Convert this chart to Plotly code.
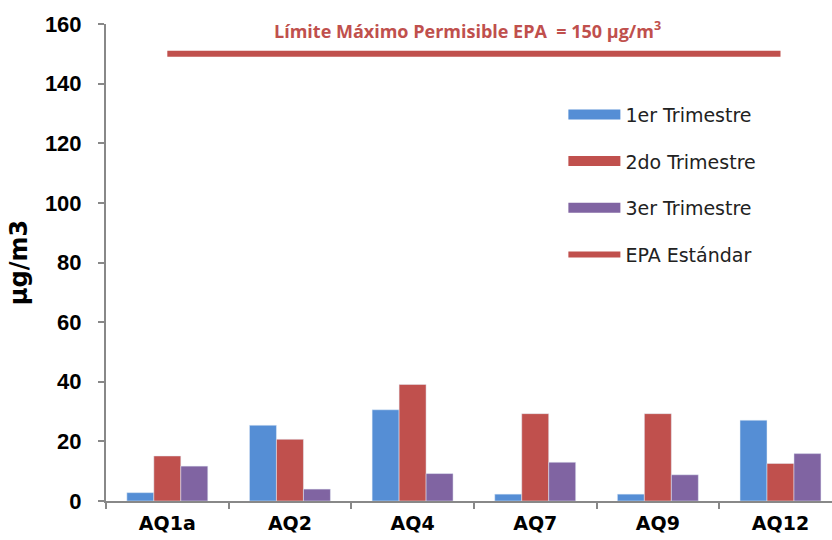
import plotly.graph_objects as go

categories = ["AQ1a", "AQ2", "AQ4", "AQ7", "AQ9", "AQ12"]
trim1 = [2.8, 25.4, 30.6, 2.3, 2.3, 27.1]
trim2 = [15.1, 20.7, 39.1, 29.3, 29.3, 12.6]
trim3 = [11.7, 4.0, 9.2, 13.0, 8.8, 15.9]
epa_x = ["AQ1a", "AQ12"]
epa_y = [150, 150]
y_ticks = [0, 20, 40, 60, 80, 100, 120, 140, 160]
names = ["1er Trimestre", "2do Trimestre", "3er Trimestre"]
colors = ["#558ED5", "#C0504D", "#8064A2"]

fig = go.Figure()
for vals, nm, col, grp in zip([trim1, trim2, trim3], names, colors, ["a", "b", "c"]):
    fig.add_trace(go.Bar(x=categories, y=vals, name=nm, marker=dict(color=col),
                         showlegend=False, legendgroup=grp))
    # legend swatch drawn as a wide bar-like line
    fig.add_trace(go.Scatter(x=[None], y=[None], mode="lines", name=nm,
                             line=dict(color=col, width=10), legendgroup=grp,
                             hoverinfo="skip"))
fig.add_trace(go.Scatter(x=epa_x, y=epa_y, mode="lines", name="EPA Estándar",
                         line=dict(color="#C0504D", width=6), legendgroup="d"))

fig.add_annotation(text="<b>Límite Máximo Permisible EPA  = 150 µg/m<sup>3</sup></b>",
                   xref="paper", yref="paper", x=0.498, y=1.0, yanchor="middle", yshift=-6,
                   showarrow=False, font=dict(family="Open Sans", size=18, color="#C0504D"))

fig.update_layout(
    width=832, height=540,
    margin=dict(l=106, r=0, t=24, b=39),
    paper_bgcolor="white", plot_bgcolor="white",
    barmode="group", bargap=0.34, bargroupgap=0,
    font=dict(family="DejaVu Sans", color="black"),
    legend=dict(x=0.63, y=0.85, xanchor="left", yanchor="top",
                font=dict(size=19, family="DejaVu Sans", color="#222"),
                tracegroupgap=19, itemwidth=52, bgcolor="rgba(0,0,0,0)"),
    xaxis=dict(type="category", range=[-0.5, 5.42], showline=True, linecolor="#888",
               linewidth=2, ticks="outside", tickson="boundaries", ticklen=6,
               tickcolor="#888", tickwidth=2, ticklabelstandoff=4,
               tickfont=dict(size=19, family="DejaVu Sans", color="black"),
               showgrid=False),
    yaxis=dict(range=[0, 160], tickvals=y_ticks, showline=True, linecolor="#888",
               linewidth=2, ticks="outside", ticklen=6, tickcolor="#888", tickwidth=2,
               ticklabelstandoff=12,
               tickfont=dict(size=22, family="Liberation Sans", color="black"),
               showgrid=False, zeroline=False,
               title=dict(text="<b>µg/m3</b>", font=dict(size=24, family="DejaVu Sans"),
                          standoff=10)),
)
fig.update_xaxes(ticktext=[f"<b>{c}</b>" for c in categories], tickvals=categories)
fig.update_yaxes(ticktext=[f"<b>{v}</b>" for v in y_ticks])

fig.write_html("out.html")
